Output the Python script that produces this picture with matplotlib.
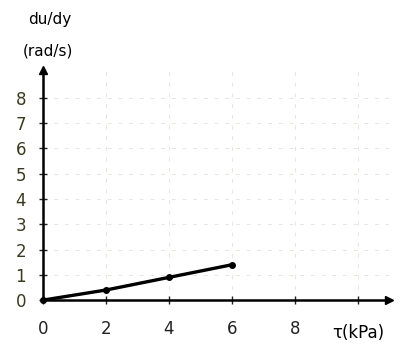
"""Grafik du/dy terhadap tegangan geser tau."""

import matplotlib

matplotlib.use("Agg")
import matplotlib.pyplot as plt

tau_kpa = [0, 2, 4, 6]
rate = [0, 0.4, 0.9, 1.4]
x_ticks = [0, 2, 4, 6, 8, 10]
x_labels = ["0", "2", "4", "6", "8", ""]
y_ticks = [0, 1, 2, 3, 4, 5, 6, 7, 8]

fig = plt.figure(figsize=(4.01, 3.49), dpi=100)
ax = fig.add_axes([0.107, 0.14, 0.864, 0.659])

ax.plot(tau_kpa, rate, color="black", linewidth=2.4, marker="o", markersize=4,
        clip_on=False, zorder=3)

ax.set_xlim(0, 11)
ax.set_ylim(0, 9.1)
ax.set_xticks(x_ticks)
ax.set_xticklabels(x_labels)
ax.set_yticks(y_ticks)
ax.grid(color="#c8c8b8", linestyle=(0, (4, 7)), linewidth=0.7, alpha=0.45)

for side in ("top", "right"):
    ax.spines[side].set_visible(False)
for side in ("left", "bottom"):
    ax.spines[side].set_linewidth(1.8)

ax.tick_params(direction="inout", length=6, width=1, labelsize=12,
               colors="#222222")
ax.tick_params(axis="x", pad=11)
ax.tick_params(axis="y", pad=9)
for lbl in ax.get_yticklabels():
    lbl.set_color("#3a3a20")

# panah sumbu
ax.plot(1, 0, ">k", markersize=6, transform=ax.get_yaxis_transform(), clip_on=False)
ax.plot(0, 1, "^k", markersize=6, transform=ax.get_xaxis_transform(), clip_on=False)

fig.text(0.125, 0.945, "du/dy", fontsize=11, ha="center", va="center")
fig.text(0.12, 0.855, "(rad/s)", fontsize=11, ha="center", va="center")
ax.text(10, -0.95, "τ(kPa)", fontsize=12, ha="center", va="top")

fig.savefig("out.png", dpi=100)
plt.close(fig)
